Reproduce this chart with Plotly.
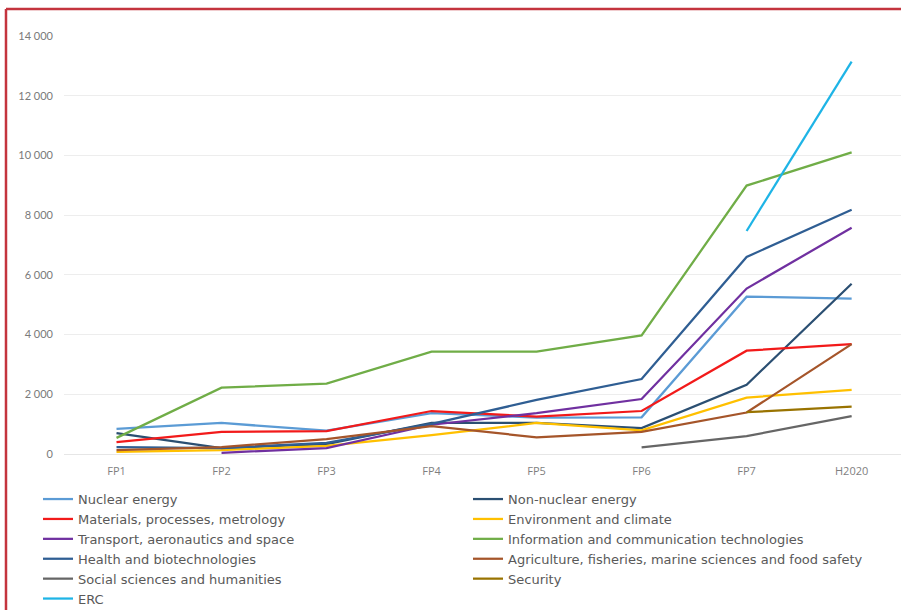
import plotly.graph_objects as go

categories = ["FP1", "FP2", "FP3", "FP4", "FP5", "FP6", "FP7", "H2020"]

nuclear_energy = [840, 1040, 780, 1370, 1220, 1230, 5270, 5200]
non_nuclear_energy = [700, 200, 330, 1040, 1040, 870, 2320, 5700]
materials = [400, 740, 770, 1440, 1250, 1440, 3460, 3680]
environment = [70, 130, 270, 630, 1040, 790, 1890, 2150]
transport = [None, 40, 200, 980, 1370, 1840, 5540, 7580]
ict = [540, 2220, 2360, 3430, 3430, 3970, 8990, 10100]
health = [230, 200, 370, 1010, 1810, 2510, 6600, 8180]
agriculture = [130, 230, 500, 930, 560, 740, 1390, 3680]
social = [None, None, None, None, None, 220, 600, 1270]
security = [None, None, None, None, None, None, 1400, 1590]
erc = [None, None, None, None, None, None, 7470, 13140]

series = [
    ("Nuclear energy", nuclear_energy, "#5B9BD5"),
    ("Non-nuclear energy", non_nuclear_energy, "#2B4F72"),
    ("Materials, processes, metrology", materials, "#F21A1A"),
    ("Environment and climate", environment, "#FFC000"),
    ("Transport, aeronautics and space", transport, "#7030A0"),
    ("Information and communication technologies", ict, "#70AD47"),
    ("Health and biotechnologies", health, "#2F5E93"),
    ("Agriculture, fisheries, marine sciences and food safety", agriculture, "#A5552A"),
    ("Social sciences and humanities", social, "#666666"),
    ("Security", security, "#997300"),
    ("ERC", erc, "#1EB4E6"),
]

fig = go.Figure()
for i, (name, vals, color) in enumerate(series):
    fig.add_trace(go.Scatter(
        x=categories, y=vals, name=name, mode="lines",
        line=dict(color=color, width=2.25), connectgaps=False,
        legend="legend" if i % 2 == 0 else "legend2",
    ))

legend_font = dict(family="DejaVu Sans, sans-serif", size=13, color="#595959")
legend_common = dict(
    orientation="v", xref="container", yref="paper",
    y=-0.072, xanchor="left", yanchor="top",
    font=legend_font, bgcolor="rgba(0,0,0,0)", tracegroupgap=0,
)

fig.update_layout(
    width=901, height=610,
    margin=dict(l=64, r=0, t=36, b=156, autoexpand=False),
    paper_bgcolor="white", plot_bgcolor="white",
    separators=". ",
    showlegend=True,
    legend=dict(x=38 / 901, **legend_common),
    legend2=dict(x=468 / 901, **legend_common),
    xaxis=dict(
        type="category", range=[-0.5, 7.47],
        showgrid=False, showline=False, zeroline=False, ticks="",
        ticklabelstandoff=9,
        tickfont=dict(family="Open Sans, sans-serif", size=11, color="#7f7f7f"),
    ),
    yaxis=dict(
        range=[0, 14000], dtick=2000, tickformat=",d",
        showgrid=True, gridcolor="#EDEDED", gridwidth=1,
        zeroline=True, zerolinecolor="#E6E6E6", zerolinewidth=1,
        showline=False, ticks="",
        ticklabelstandoff=10,
        tickfont=dict(family="Lato, sans-serif", size=11, color="#7a7a7a"),
    ),
    shapes=[
        dict(type="line", xref="paper", yref="paper",
             x0=-0.0693, x1=1.01, y0=1.0646, y1=1.0646,
             line=dict(color="#C4343E", width=2.5)),
        dict(type="line", xref="paper", yref="paper",
             x0=-0.0693, x1=-0.0693, y0=1.0646, y1=-0.5,
             line=dict(color="#C4343E", width=2.5)),
    ],
)

fig.write_html("out.html")
